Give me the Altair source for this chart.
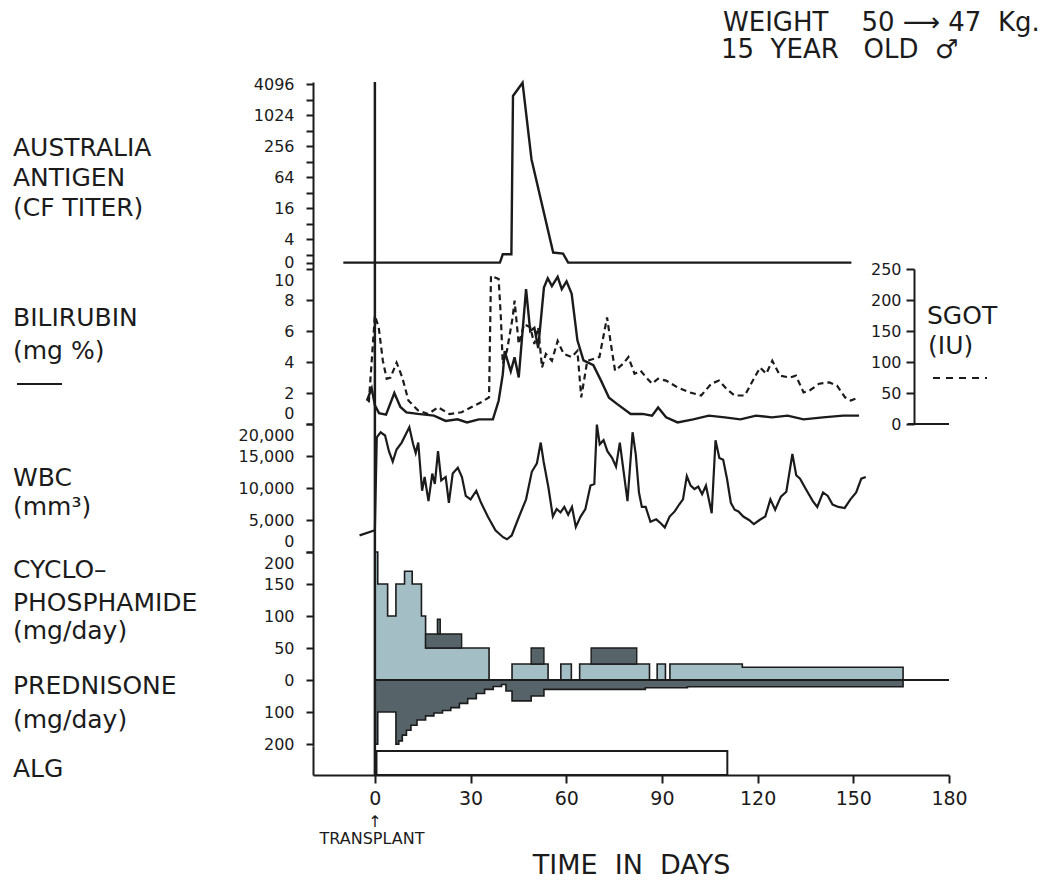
import altair as alt
import pandas as pd

FONT = "DejaVu Sans"
INK = "#1b1b1b"
LIGHT = "#a3bec5"
DARK = "#56646a"

X_DOMAIN = [-19.4, 180]
W = 636
H_AG, H_BIL, H_WBC, H_CY, H_ALG = 187, 155, 128, 194, 29
LEFT_X = -300
NB = "\u00a0"

# ---------------- data ----------------
# Australia antigen, CF titer as log2 (0.5 = "0")
ag_day = [-9.9, 39.2, 40.1, 42.8, 43.3, 46.3, 49.1, 55.9, 59.0, 60.6, 149.4]
ag_log2 = [0.5, 0.5, 1.04, 1.04, 11.25, 12.1, 7.17, 1.15, 1.08, 0.5, 0.5]

# Bilirubin (mg %)
bil_day = [-2.5, -1, 0, 1.3, 3.5, 6.1, 8, 9.9, 13.5, 18.5, 22.2, 25.9, 28.9, 32.6, 37, 38.8,
           40.1, 40.7, 42.6, 43.8, 45.1, 47.4, 48.7, 50, 51.2, 53, 54.2, 55.5, 57.3, 58.6,
           60.1, 61.7, 63.5, 65.4, 68.5, 70.9, 73.4, 75.9, 80.2, 83.9, 86.9, 88.8, 91.3,
           94.9, 99.8, 104.7, 109.7, 114.6, 119.5, 124.5, 129.4, 134.4, 140.5, 146.8, 151.8]
bil_val = [1.5, 2.3, 1.2, 0.7, 0.6, 2.0, 1.1, 0.75, 0.65, 0.54, 0.2, 0.3, 0.1, 0.3, 0.3, 1.5,
           3.2, 4.7, 3.4, 4.3, 3.0, 8.7, 6.0, 6.2, 4.9, 8.8, 9.4, 8.9, 9.5, 8.7,
           9.2, 8.4, 5.4, 4.1, 3.8, 2.8, 1.7, 1.3, 0.65, 0.65, 0.54, 1.07, 0.43,
           0.1, 0.3, 0.54, 0.43, 0.3, 0.54, 0.43, 0.54, 0.3, 0.43, 0.54, 0.54]

# SGOT (IU)
sgot_day = [-1.9, 0, 1.2, 2.5, 3.7, 4.9, 6.8, 8.6, 10.5, 13.5, 16.7, 19.8, 23.4, 27.2, 30.2,
            33.3, 35.8, 36.4, 38.8, 39.5, 40.1, 41.4, 43.2, 43.8, 45.1, 46.8, 48.7, 50,
            51.2, 52.4, 53.6, 55.5, 57.3, 59.2, 61.7, 63.5, 64.7, 66.6, 70.4, 72.8, 74,
            75.3, 77.8, 79.5, 81.4, 83.3, 85.1, 86.9, 88.8, 91.3, 94.9, 98.7, 102.3, 105.5,
            107.9, 110.4, 112.8, 116, 119, 120.8, 122.7, 124.6, 127, 130.1, 132, 134.4,
            136.3, 139.3, 142.5, 144.9, 147.4, 149.2, 151.8]
sgot_val = [35, 175, 156, 102, 73, 75, 99, 75, 38, 22, 16, 27, 16, 19, 27,
            35, 43, 239, 234, 172, 97, 118, 172, 199, 129, 161, 156, 129,
            156, 91, 113, 102, 134, 113, 108, 118, 43, 102, 108, 172, 129,
            86, 97, 108, 81, 86, 75, 65, 73, 70, 59, 51, 46, 65,
            70, 56, 46, 46, 75, 91, 81, 102, 78, 75, 78, 51,
            54, 65, 67, 62, 43, 38, 43]

# WBC (mm3)
wbc_day = [-4.8, 0, 0.6, 1.8, 3.2, 4.4, 5.6, 6.8, 8.4, 10.8, 12, 12.8, 13.6, 14.8, 15.6, 16.8,
           18, 18.8, 19.8, 20.8, 22.2, 23.2, 24.4, 26, 27.3, 28.5, 30, 31.8, 33.3, 35.4,
           37.8, 40.2, 41.4, 42.9, 45, 47.4, 49.2, 50.8, 52, 52.9, 54.4, 55.8, 57, 58.2,
           59.4, 60.6, 61.8, 63, 64.5, 66, 67.6, 68.8, 69.6, 70.5, 71.7, 72.9, 74.4, 75.6,
           76.8, 78, 79.2, 80.8, 81.8, 82.8, 83.7, 84.9, 86.4, 88.2, 89.7, 90.9, 92.4, 94,
           95.4, 96.6, 97.8, 99, 100.2, 101.4, 102.6, 103.8, 105.6, 106.8, 108, 109.2,
           110.4, 111.6, 112.8, 114, 115.5, 117.3, 118.8, 120.6, 122.4, 124, 125.5, 127.3,
           129, 130.9, 132.1, 133.3, 135.1, 137.3, 138.7, 140.5, 142, 143.5, 145.3, 147.3,
           149.1, 150.9, 152.5, 153.9]
wbc_val = [2600, 3400, 17900, 18700, 18200, 15750, 14140, 16020, 17100, 19500, 16830, 15480,
           17100, 9570, 11720, 7960, 12260, 10640, 15750, 11180, 11720, 7690, 12260, 13170,
           11720, 8760, 8230, 9570, 7690, 5540, 3390, 2310, 1990, 2580, 5270, 8230, 12530,
           13870, 17100, 14140, 10110, 5540, 6720, 6180, 7040, 5810, 7040, 3920, 5540, 6720,
           10380, 10640, 19900, 16830, 17470, 15750, 14680, 13330, 17100, 12530, 7960,
           18710, 15210, 9300, 7040, 7040, 4730, 5110, 4460, 3820, 5540, 6340, 7420, 8230,
           11880, 10380, 9840, 10210, 9030, 10380, 6070, 17470, 14680, 14410, 11450, 7690,
           6610, 6340, 5540, 5000, 4350, 5000, 5540, 8230, 6610, 8660, 9410, 15320, 11990,
           11450, 9840, 7960, 7040, 9300, 8760, 7420, 7040, 6880, 8230, 9300, 11450, 11720]

# Cyclophosphamide (mg/day), step changes
cy_day = [0, 0.9, 4.0, 6.6, 9.3, 11.7, 14.6, 15.9, 35.8, 43.0, 54.3, 58.3, 61.6, 64.2,
          86.1, 88.5, 91.1, 92.5, 115.2, 165.6]
cy_dose = [200, 150, 100, 150, 170, 150, 100, 50, 0, 25, 0, 25, 0, 25, 0, 25, 0, 25, 20, 0]

# darker shaded dose blocks above zero
ov_start = [15.9, 19.6, 49.0, 67.8]
ov_end = [27.2, 20.5, 53.0, 82.1]
ov_lo = [50, 72, 25, 25]
ov_hi = [72, 95, 50, 50]

# Prednisone (mg/day), step changes
pr_day = [0, 0.9, 6.6, 7.5, 8.6, 9.9, 11.3, 13.2, 15.9, 18.5, 21.2, 23.8, 26.5, 29.1,
          31.8, 34.4, 37.1, 39.7, 41.1, 43.0, 49.0, 53.0, 84.8, 98.0, 165.6]
pr_dose = [200, 100, 200, 190, 172, 157, 141, 125, 112, 103, 95, 86, 73, 58,
           42, 29, 20, 14, 34, 65, 50, 29, 24, 21, 0]

# ALG course
alg_start = [0.5]
alg_end = [110.5]
alg_lo = [0]
alg_hi = [0.83]

transplant_day = [0]
zero_line_start = [0]
zero_line_end = [180]

ag_ticks = [0.5, 1, 2, 3, 4, 5, 6, 7, 8, 9, 10, 11, 12]
bil_ticks = [0, 2, 4, 6, 8, 10]
sgot_ticks = [0, 50, 100, 150, 200, 250]
wbc_ticks = [0, 5000, 10000, 15000, 20000]
cy_ticks = [-100, -50, 0, 50, 100, 150, 200]
day_ticks = [0, 30, 60, 90, 120, 150, 180]

# ---------------- helpers ----------------
XS = alt.Scale(domain=X_DOMAIN, nice=False, zero=False)
AX = dict(domainColor=INK, domainWidth=2, tickColor=INK, tickWidth=2,
          labelFont=FONT, labelFontSize=16, labelColor=INK, grid=False,
          title=None, labelOverlap=False)


def xenc(field, axis=None):
    return alt.X(f"{field}:Q", scale=XS, axis=axis)


def label(text, x, y, size=25, align="left"):
    return alt.Chart(pd.DataFrame({"t": [text]})).mark_text(
        font=FONT, fontSize=size, color=INK, align=align, baseline="alphabetic"
    ).encode(text="t:N", x=alt.value(x), y=alt.value(y))


def swatch(x1, x2, y, dash=None):
    kw = dict(color=INK, strokeWidth=2)
    if dash:
        kw["strokeDash"] = dash
    return alt.Chart(pd.DataFrame({"k": [0]})).mark_rule(**kw).encode(
        x=alt.value(x1), x2=alt.value(x2), y=alt.value(y))


def day0(axis=None):
    return alt.Chart(pd.DataFrame({"d": transplant_day})).mark_rule(
        color=INK, strokeWidth=2.5).encode(x=xenc("d", axis))


# ---------------- panel 1: Australia antigen ----------------
ag_df = pd.DataFrame({"day": ag_day, "v": ag_log2})
ag_line = alt.Chart(ag_df).mark_line(color=INK, strokeWidth=2.4).encode(
    x=xenc("day"),
    y=alt.Y("v:Q", scale=alt.Scale(domain=[0.09, 12.15], nice=False, zero=False),
            axis=alt.Axis(values=ag_ticks, tickSize=7, labelPadding=12,
                          labelExpr="datum.value < 1 ? '0' : (datum.value % 2 == 0 ? format(pow(2, datum.value), 'd') : '')",
                          **AX)))
p1 = alt.layer(
    ag_line, day0(),
    label("AUSTRALIA", LEFT_X, 74), label("ANTIGEN", LEFT_X, 104), label("(CF TITER)", LEFT_X, 134),
    label(f"WEIGHT{NB*4}50{NB}\u27f6{NB}47{NB*2}Kg.", 410, -51, size=26),
    label(f"15{NB*2}YEAR{NB*3}OLD{NB*2}\u2642", 408, -24, size=26),
).properties(width=W, height=H_AG)

# ---------------- panel 2: bilirubin / SGOT ----------------
bil_df = pd.DataFrame({"day": bil_day, "bil": bil_val})
sgot_df = pd.DataFrame({"day": sgot_day, "sgot": sgot_val})
bil_line = alt.Chart(bil_df).mark_line(color=INK, strokeWidth=2.4).encode(
    x=xenc("day"),
    y=alt.Y("bil:Q", scale=alt.Scale(domain=[0, 10], nice=False, zero=False),
            axis=alt.Axis(values=bil_ticks, tickSize=7, labelPadding=12, labelFlush=True,
                          labelFlushOffset=-3, **AX)))
sgot_line = alt.Chart(sgot_df).mark_line(color=INK, strokeWidth=2.2, strokeDash=[6, 4]).encode(
    x=xenc("day"),
    y=alt.Y("sgot:Q", scale=alt.Scale(domain=[0, 250], nice=False, zero=False),
            axis=alt.Axis(values=sgot_ticks, orient="left", offset=-601, tickSize=8,
                          labelPadding=5, labelFlush=False, **AX)))
p2 = alt.layer(
    bil_line, sgot_line, day0(),
    label("BILIRUBIN", LEFT_X, 57), label("(mg %)", LEFT_X, 90),
    swatch(-296, -251, 115),
    label("SGOT", 614, 55), label("(IU)", 615, 85),
    swatch(620, 674, 109, dash=[7, 6]),
    swatch(595, 636, H_BIL),
).resolve_scale(y="independent").properties(width=W, height=H_BIL)

# ---------------- panel 3: WBC ----------------
wbc_df = pd.DataFrame({"day": wbc_day, "wbc": wbc_val})
wbc_line = alt.Chart(wbc_df).mark_line(color=INK, strokeWidth=2.2).encode(
    x=xenc("day"),
    y=alt.Y("wbc:Q", scale=alt.Scale(domain=[0, 20000], nice=False, zero=False),
            axis=alt.Axis(values=wbc_ticks, format=",d", tickSize=7, labelPadding=12,
                          labelFlush=True, labelFlushOffset=-3, **AX)))
p3 = alt.layer(
    wbc_line, day0(),
    label("WBC", LEFT_X, 62), label("(mm\u00b3)", LEFT_X, 91),
).properties(width=W, height=H_WBC)

# ---------------- panel 4: cyclophosphamide / prednisone ----------------
CYS = alt.Scale(domain=[-103, 200], nice=False, zero=False)
CY_AXIS = alt.Axis(values=cy_ticks, tickSize=7, labelPadding=12, labelFlush=True,
                   labelFlushOffset=-3,
                   labelExpr="datum.value < 0 ? format(-2*datum.value, 'd') : format(datum.value, 'd')",
                   **AX)
cy_df = pd.DataFrame({"day": cy_day, "dose": cy_dose})
ov_df = pd.DataFrame({"s": ov_start, "e": ov_end, "lo": ov_lo, "hi": ov_hi})
pr_df = pd.DataFrame({"day": pr_day, "dose": pr_dose})
zl_df = pd.DataFrame({"s": zero_line_start, "e": zero_line_end, "z": [0]})

cy_area = alt.Chart(cy_df).mark_area(
    interpolate="step-after", color=LIGHT, stroke=INK, strokeWidth=1.6).encode(
    x=xenc("day"),
    y=alt.Y("dose:Q", scale=CYS, axis=CY_AXIS),
    y2=alt.datum(0))
ov_rect = alt.Chart(ov_df).mark_rect(color=DARK, stroke=INK, strokeWidth=1.4).encode(
    x=xenc("s"), x2="e:Q",
    y=alt.Y("lo:Q", scale=CYS, axis=CY_AXIS), y2="hi:Q")
pr_area = alt.Chart(pr_df).transform_calculate(neg="-datum.dose / 2").mark_area(
    interpolate="step-after", color=DARK, stroke=INK, strokeWidth=1.6).encode(
    x=xenc("day"),
    y=alt.Y("neg:Q", scale=CYS, axis=CY_AXIS),
    y2=alt.datum(0))
zero_rule = alt.Chart(zl_df).mark_rule(color=INK, strokeWidth=2).encode(
    x=xenc("s"), x2="e:Q", y=alt.Y("z:Q", scale=CYS, axis=CY_AXIS))
p4 = alt.layer(
    cy_area, ov_rect, pr_area, zero_rule, day0(),
    label("CYCLO\u2013", LEFT_X, 26), label("PHOSPHAMIDE", LEFT_X, 59), label("(mg/day)", LEFT_X, 87),
    label("PREDNISONE", LEFT_X, 142), label("(mg/day)", LEFT_X, 176),
).properties(width=W, height=H_CY)

# ---------------- panel 5: ALG + time axis ----------------
alg_df = pd.DataFrame({"s": alg_start, "e": alg_end, "lo": alg_lo, "hi": alg_hi})
X_AXIS = alt.Axis(values=day_ticks, title=f"TIME{NB*2}IN{NB*2}DAYS", titleFont=FONT,
                  titleFontSize=27, titleFontWeight="normal", titleColor=INK, titlePadding=44,
                  tickSize=8, domainColor=INK, domainWidth=2, tickColor=INK, tickWidth=2,
                  labelFont=FONT, labelFontSize=19, labelColor=INK, labelPadding=6,
                  labelFlush=False, labelOverlap=False, grid=False)
alg_rect = alt.Chart(alg_df).mark_rect(fill="white", stroke=INK, strokeWidth=2).encode(
    x=xenc("s", X_AXIS), x2="e:Q",
    y=alt.Y("lo:Q", scale=alt.Scale(domain=[0, 1], nice=False, zero=False),
            axis=alt.Axis(ticks=False, labels=False, domainColor=INK, domainWidth=2,
                          grid=False, title=None)),
    y2="hi:Q")
p5 = alt.layer(
    alg_rect, day0(X_AXIS),
    label("ALG", LEFT_X, 31),
    label("\u2191", 62, 81, size=16, align="center"),
    label("TRANSPLANT", 59, 98, size=16, align="center"),
).properties(width=W, height=H_ALG)

chart = alt.vconcat(p1, p2, p3, p4, p5, spacing=0, bounds="flush").resolve_scale(
    x="independent", y="independent"
).properties(
    padding={"left": 5, "top": 2, "right": 2, "bottom": 4}, background="white"
).configure_view(stroke=None)

chart.save("out.html", embed_options={"renderer": "svg", "actions": False})
